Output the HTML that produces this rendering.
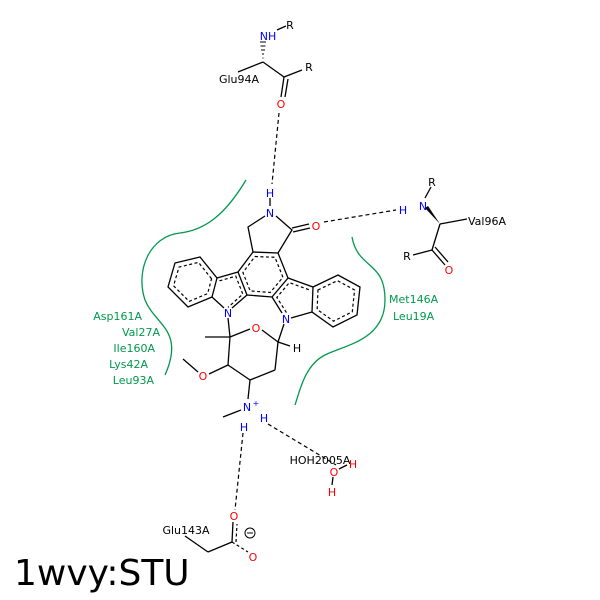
<!DOCTYPE html>
<html><head><style>body{margin:0;background:#fff}svg{display:block}</style></head><body>
<svg width="600" height="600" viewBox="0 0 600 600" xmlns="http://www.w3.org/2000/svg" font-family="DejaVu Sans, Liberation Sans, sans-serif" font-size="11">
<rect width="600" height="600" fill="#fff"/>
<g fill="none" stroke="#00994d" stroke-width="1.3">
<path d="M246,180 C225,215 205,230 180,233 C150,236 135,270 145,300 C155,325 185,330 165,375"/>
<path d="M352,237 C358,270 385,260 385,300 C385,340 345,345 325,355 C305,365 300,390 295,405"/>
</g>
<g fill="none" stroke="#000" stroke-width="1.3">
<line x1="277" y1="30" x2="286" y2="26"/>
<line x1="263" y1="62" x2="238" y2="72"/>
<line x1="263" y1="62" x2="284" y2="77"/>
<line x1="284" y1="77" x2="302" y2="70"/>
<line x1="284" y1="77" x2="281" y2="97"/>
<line x1="288" y1="79" x2="285" y2="97"/>
<polyline points="253,252 248,227 265,216"/>
<polyline points="276,216 292,230 278,253"/>
<line x1="292" y1="228" x2="309" y2="224"/>
<line x1="293" y1="232" x2="310" y2="228"/>
<line x1="270" y1="198" x2="270" y2="206"/>
<polygon points="253,252 278,253 288,278 272,297 247,295 238,272"/>
<polyline points="238,272 217,278 200,257 175,263 168,287 188,307 212,297 217,278"/>
<polyline points="212,297 224,308"/>
<line x1="232" y1="308" x2="247" y2="295"/>
<polyline points="288,278 313,287 338,275 360,287 357,315 333,327 312,312 313,287"/>
<line x1="272" y1="297" x2="282" y2="313"/>
<line x1="291" y1="318" x2="312" y2="312"/>
<line x1="228" y1="318" x2="230" y2="337"/>
<line x1="230" y1="337" x2="205" y2="337"/>
<line x1="230" y1="337" x2="250" y2="329"/>
<line x1="262" y1="330" x2="278" y2="342"/>
<line x1="278" y1="342" x2="284" y2="324"/>
<line x1="278" y1="342" x2="290" y2="346"/>
<line x1="278" y1="342" x2="275" y2="370"/>
<line x1="275" y1="370" x2="250" y2="380"/>
<line x1="250" y1="380" x2="228" y2="365"/>
<line x1="228" y1="365" x2="230" y2="337"/>
<line x1="228" y1="365" x2="209" y2="374"/>
<line x1="198" y1="372" x2="183" y2="359"/>
<line x1="250" y1="380" x2="248" y2="399"/>
<line x1="241" y1="410" x2="223" y2="417"/>
<line x1="425" y1="198" x2="431" y2="187"/>
<line x1="440" y1="224" x2="467" y2="219"/>
<line x1="440" y1="224" x2="432" y2="250"/>
<line x1="432" y1="250" x2="413" y2="255"/>
<line x1="432" y1="250" x2="445" y2="265"/>
<line x1="435" y1="247" x2="448" y2="262"/>
<line x1="185" y1="536" x2="208" y2="552"/>
<line x1="208" y1="552" x2="232" y2="542"/>
<line x1="232" y1="542" x2="233" y2="522"/>
<line x1="333" y1="477" x2="332" y2="485"/>
<line x1="339" y1="469" x2="347" y2="465"/>
</g>
<g fill="none" stroke="#000" stroke-width="1.2" stroke-dasharray="3,2.5">
<line x1="236" y1="542" x2="237" y2="524"/>
<line x1="232" y1="542" x2="248" y2="552"/>
<polygon vector-effect="non-scaling-stroke" transform="translate(193.2,281.5) scale(0.78) translate(-193.2,-281.5)" points="216.7,278 200,257 175,263 168,287 188,307 211.7,297"/>
<polygon vector-effect="non-scaling-stroke" transform="translate(335.5,300.5) scale(0.78) translate(-335.5,-300.5)" points="313,287 338,275 360,287 357,315 333,327 312,312"/>
<polygon vector-effect="non-scaling-stroke" transform="translate(262.7,274.5) scale(0.8) translate(-262.7,-274.5)" points="253,252 278,253 288,278 272,297 247,295 238,272"/>
<polyline vector-effect="non-scaling-stroke" transform="translate(228,291) scale(0.78) translate(-228,-291)" points="217,278 238,272 247,295 228,312"/>
<polyline vector-effect="non-scaling-stroke" transform="translate(294,299) scale(0.78) translate(-294,-299)" points="313,287 288,278 272,297 286,319"/>
</g>
<g stroke="#000" stroke-width="1.2" stroke-dasharray="4,3" fill="none">
<line x1="279" y1="113" x2="272" y2="184"/>
<line x1="324" y1="222" x2="396" y2="210"/>
<line x1="268" y1="424" x2="336" y2="465"/>
<line x1="243" y1="433" x2="235" y2="510"/>
</g>
<g stroke="#000" stroke-width="1">
<line x1="263.5" y1="58" x2="262.5" y2="58"/>
<line x1="264" y1="54" x2="262" y2="54"/>
<line x1="265" y1="50" x2="261" y2="50"/>
<line x1="265.5" y1="46" x2="260.5" y2="46"/>
<line x1="266" y1="42" x2="260" y2="42"/>
</g>
<polygon points="440,224 425,208 428,206" fill="#000"/>
<g text-anchor="middle">
<text x="268" y="40" fill="#0000ff">NH</text>
<text x="290" y="29">R</text>
<text x="239" y="83">Glu94A</text>
<text x="309" y="71">R</text>
<text x="281" y="108" fill="#ff0000">O</text>
<text x="270" y="197" fill="#0000ff">H</text>
<text x="270" y="217" fill="#0000ff">N</text>
<text x="316" y="230" fill="#ff0000">O</text>
<text x="228" y="317" fill="#0000ff">N</text>
<text x="286" y="323" fill="#0000ff">N</text>
<text x="256" y="332" fill="#ff0000">O</text>
<text x="297" y="352">H</text>
<text x="203" y="380" fill="#ff0000">O</text>
<text x="247" y="411" fill="#0000ff">N</text>
<text x="256" y="406" font-size="8" fill="#0000ff">+</text>
<text x="244" y="431" fill="#0000ff">H</text>
<text x="264" y="422" fill="#0000ff">H</text>
<text x="432" y="186">R</text>
<text x="403" y="214" fill="#0000ff">H</text>
<text x="423" y="210" fill="#0000ff">N</text>
<text x="407" y="260">R</text>
<text x="449" y="274" fill="#ff0000">O</text>
<text x="320" y="464">HOH2005A</text>
<text x="334" y="476" fill="#ff0000">O</text>
<text x="353" y="468" fill="#ff0000">H</text>
<text x="332" y="496" fill="#ff0000">H</text>
<text x="186" y="534">Glu143A</text>
<text x="234" y="520" fill="#ff0000">O</text>
<text x="253" y="561" fill="#ff0000">O</text>
</g>
<text x="468" y="225">Val96A</text>
<circle cx="250" cy="533" r="5" fill="none" stroke="#000" stroke-width="1"/>
<line x1="247" y1="533" x2="253" y2="533" stroke="#000" stroke-width="1"/>
<g fill="#00994d" text-anchor="end">
<text x="142" y="320">Asp161A</text>
<text x="160" y="336">Val27A</text>
<text x="155" y="352">Ile160A</text>
<text x="148" y="368">Lys42A</text>
<text x="154" y="384">Leu93A</text>
</g>
<g fill="#00994d">
<text x="389" y="303">Met146A</text>
<text x="393" y="320">Leu19A</text>
</g>
<text x="14" y="585" font-size="36">1wvy:STU</text>
</svg>
</body></html>
